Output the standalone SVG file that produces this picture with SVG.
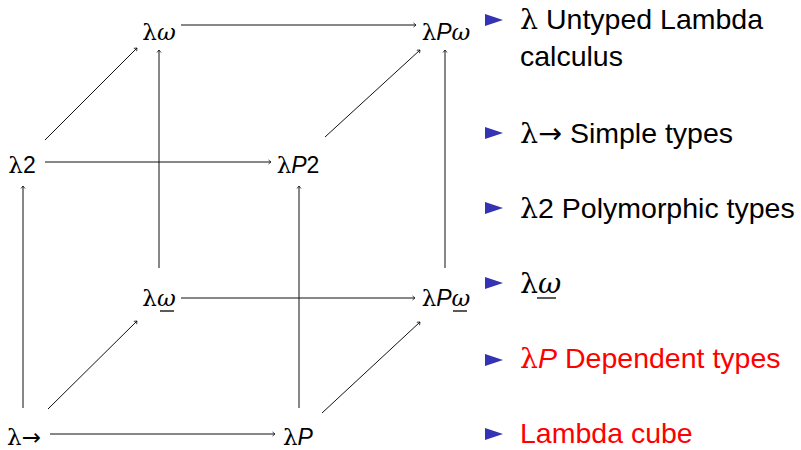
<svg xmlns="http://www.w3.org/2000/svg" width="801" height="450" viewBox="0 0 801 450">
<defs>
<style>
.lbl{font-family:"Liberation Sans",Arial,sans-serif;font-size:23px;fill:#000;text-anchor:middle}
.g{font-family:"DejaVu Serif","Liberation Serif",serif;font-weight:normal}
.ar{font-family:"DejaVu Sans",sans-serif;font-weight:normal}
.it{font-style:italic}
.bt{font-family:"Liberation Sans",Arial,sans-serif;font-size:28.5px;fill:#000}
.red{fill:#ff0000}
.edge{stroke:#111;stroke-width:1;fill:none;marker-end:url(#ah)}
.bul{fill:#3333b3}
.ul{stroke:#000;stroke-width:1.3}
</style>
<marker id="ah" viewBox="-4 -3 5 6" markerWidth="5" markerHeight="6" refX="0" refY="0" orient="auto" markerUnits="userSpaceOnUse">
<path d="M-2.5,-2 L0,0 L-2.5,2" fill="none" stroke="#111" stroke-width="0.8"/>
</marker>
</defs>
<rect width="801" height="450" fill="#fff"/>
<g id="connectors">
<line class="edge" x1="181" y1="25" x2="416" y2="25"/>
<line class="edge" x1="45" y1="140" x2="137" y2="48"/>
<line class="edge" x1="45" y1="162" x2="271" y2="162"/>
<line class="edge" x1="159" y1="268" x2="159" y2="50"/>
<line class="edge" x1="445" y1="268" x2="445" y2="50"/>
<line class="edge" x1="325" y1="137" x2="420" y2="50"/>
<line class="edge" x1="23" y1="408" x2="23" y2="186"/>
<line class="edge" x1="299" y1="408" x2="299" y2="186"/>
<line class="edge" x1="48" y1="409" x2="137" y2="321"/>
<line class="edge" x1="322" y1="413" x2="420" y2="322"/>
<line class="edge" x1="181" y1="298" x2="415" y2="298"/>
<line class="edge" x1="50" y1="434" x2="275" y2="434"/>
</g>
<g id="n-lw"><text class="lbl" x="159" y="40"><tspan class="g">λ</tspan><tspan class="g it">ω</tspan></text></g>
<g id="n-lPw"><text class="lbl" x="446" y="40"><tspan class="g">λ</tspan><tspan class="it">P</tspan><tspan class="g it">ω</tspan></text></g>
<g id="n-l2"><text class="lbl" x="22" y="173"><tspan class="g">λ</tspan>2</text></g>
<g id="n-lP2"><text class="lbl" x="298" y="173"><tspan class="g">λ</tspan><tspan class="it">P</tspan>2</text></g>
<g id="n-lwu"><text class="lbl" x="159" y="306"><tspan class="g">λ</tspan><tspan class="g it">ω</tspan></text><line class="ul" x1="160" y1="311" x2="174" y2="311"/></g>
<g id="n-lPwu"><text class="lbl" x="446" y="306"><tspan class="g">λ</tspan><tspan class="it">P</tspan><tspan class="g it">ω</tspan></text><line class="ul" x1="453" y1="311" x2="467" y2="311"/></g>
<g id="n-lar"><text class="lbl" x="24" y="445"><tspan class="g">λ</tspan><tspan class="ar">→</tspan></text></g>
<g id="n-lP"><text class="lbl" x="298" y="445"><tspan class="g">λ</tspan><tspan class="it">P</tspan></text></g>
<g id="list">
<polygon class="bul" points="485,14 503,20 485,26"/>
<text class="bt" x="520" y="29"><tspan class="g">λ</tspan> Untyped Lambda</text>
<text class="bt" x="520" y="66">calculus</text>
<polygon class="bul" points="485,127 503,133 485,139"/>
<text class="bt" x="520" y="143"><tspan class="g">λ</tspan><tspan class="ar">→</tspan> Simple types</text>
<polygon class="bul" points="485,202 503,208 485,214"/>
<text class="bt" x="520" y="218"><tspan class="g">λ</tspan>2 Polymorphic types</text>
<polygon class="bul" points="485,277 503,283 485,289"/>
<text class="bt" x="520" y="293"><tspan class="g">λ</tspan><tspan class="g it">ω</tspan></text>
<line class="ul" x1="537" y1="298" x2="556" y2="298"/>
<polygon class="bul" points="485,354 503,360 485,366"/>
<text class="bt red" x="520" y="368"><tspan class="g">λ</tspan><tspan class="it">P</tspan> Dependent types</text>
<polygon class="bul" points="485,428 503,434 485,440"/>
<text class="bt red" x="520" y="443">Lambda cube</text>
</g>
</svg>
